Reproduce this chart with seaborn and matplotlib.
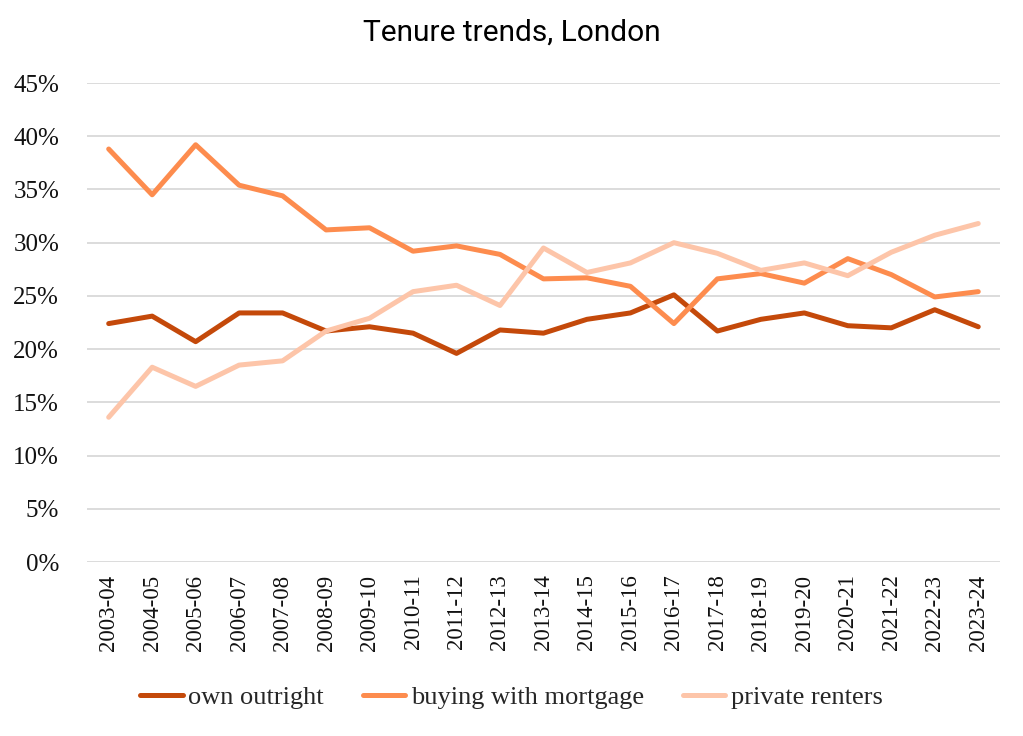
import matplotlib
matplotlib.use("Agg")
import matplotlib.pyplot as plt
import seaborn as sns
import pandas as pd
from matplotlib.ticker import FuncFormatter

years = ["2003-04", "2004-05", "2005-06", "2006-07", "2007-08", "2008-09", "2009-10",
         "2010-11", "2011-12", "2012-13", "2013-14", "2014-15", "2015-16", "2016-17",
         "2017-18", "2018-19", "2019-20", "2020-21", "2021-22", "2022-23", "2023-24"]
own_outright = [22.4, 23.1, 20.7, 23.4, 23.4, 21.7, 22.1, 21.5, 19.6, 21.8, 21.5,
                22.8, 23.4, 25.1, 21.7, 22.8, 23.4, 22.2, 22.0, 23.7, 22.1]
buying_with_mortgage = [38.8, 34.5, 39.2, 35.4, 34.4, 31.2, 31.4, 29.2, 29.7, 28.9, 26.6,
                        26.7, 25.9, 22.4, 26.6, 27.1, 26.2, 28.5, 27.0, 24.9, 25.4]
private_renters = [13.6, 18.3, 16.5, 18.5, 18.9, 21.7, 22.9, 25.4, 26.0, 24.1, 29.5,
                   27.2, 28.1, 30.0, 29.0, 27.4, 28.1, 26.9, 29.1, 30.7, 31.8]
series_names = ["own outright", "buying with mortgage", "private renters"]
colors = ["#c4490a", "#fd8c4e", "#fdc5a9"]

df = pd.DataFrame({
    "year": years * 3,
    "value": own_outright + buying_with_mortgage + private_renters,
    "series": [series_names[0]] * len(years) + [series_names[1]] * len(years) + [series_names[2]] * len(years),
})

sns.set_style("white")
serif = ["Liberation Serif", "DejaVu Serif"]
plt.rcParams["font.family"] = serif

fig = plt.figure(figsize=(10.23, 7.36), dpi=100)
ax = fig.add_axes([0.085, 0.2364, 0.8925, 0.6508])

sns.lineplot(data=df, x="year", y="value", hue="series", palette=colors,
             linewidth=3.6, ax=ax, sort=False, solid_capstyle="round", solid_joinstyle="round")

ax.set_ylim(0, 45)
ax.set_yticks(range(0, 50, 5))
ax.yaxis.set_major_formatter(FuncFormatter(lambda v, p: f"{int(v)}%"))
ax.set_xlim(-0.5, len(years) - 0.5)
ax.set_xticks(range(len(years)))
ax.set_xticklabels(years, rotation=90, fontsize=16.5)
ax.tick_params(axis="y", labelsize=18, length=0, pad=20, labelcolor="#111111")
ax.tick_params(axis="x", length=0, pad=9, labelcolor="#111111")
ax.grid(axis="y", color="#d9d9d9", linewidth=1.3)
ax.grid(axis="x", visible=False)
for s in ax.spines.values():
    s.set_visible(False)
ax.set_xlabel("")
ax.set_ylabel("")

fig.suptitle("Tenure trends, London", x=0.5, y=0.975, fontsize=21.5,
             family=["Roboto", "DejaVu Sans"], color="black")

h, l = ax.get_legend_handles_labels()
ax.legend_.remove()
fig.legend(h, l, loc="center", bbox_to_anchor=(0.5, 0.052), ncol=3, frameon=False,
           fontsize=19, handlelength=1.6, handletextpad=0.2, columnspacing=1.5)

fig.savefig("out.png", dpi=100)
